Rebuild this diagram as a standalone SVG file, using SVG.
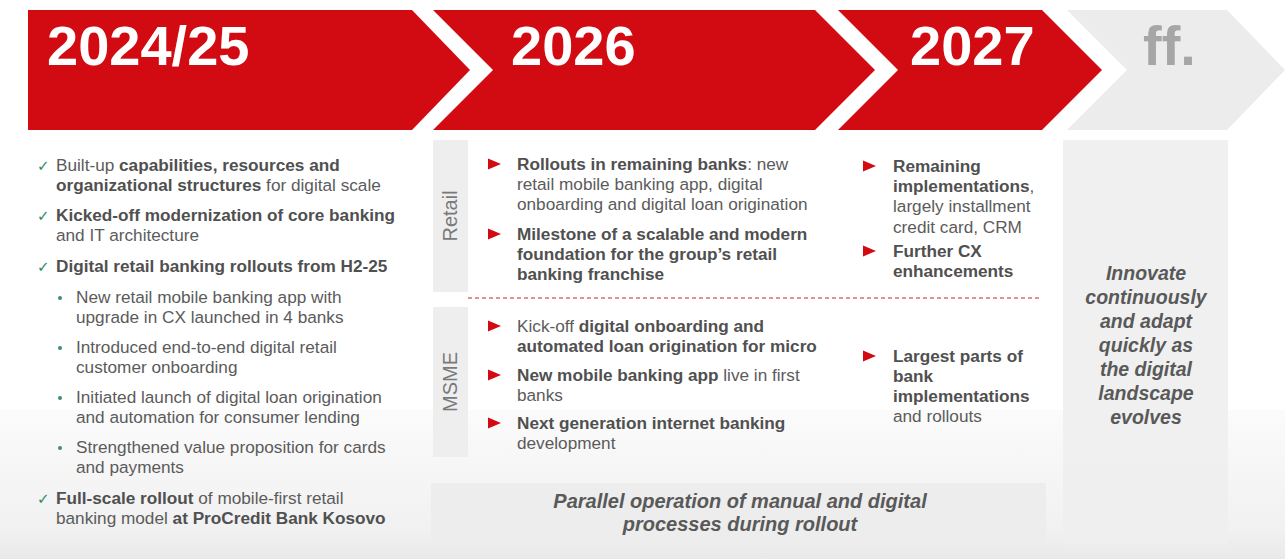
<svg xmlns="http://www.w3.org/2000/svg" width="1285" height="559" viewBox="0 0 1285 559">
<defs>
<linearGradient id="floor" x1="0" y1="0" x2="0" y2="1">
<stop offset="0" stop-color="#fbfbfb"/>
<stop offset="0.8" stop-color="#f1f1f1"/>
<stop offset="1" stop-color="#e9e9e9"/>
</linearGradient>
<style>
.t{font-family:"Liberation Sans",Arial,sans-serif;font-size:17.2px;fill:#5b5b5b}
.b{font-weight:bold;fill:#505050}
.yr{font-family:"Liberation Sans",Arial,sans-serif;font-size:56px;font-weight:bold;fill:#ffffff}
.red{fill:#d20a11}
.chk{font-family:"DejaVu Sans",sans-serif;font-size:15px;fill:#2f8a62}
.dot{fill:#3b9070}
.lbl{font-family:"Liberation Sans",Arial,sans-serif;font-size:20px;fill:#7a7a7a}
.bi{font-family:"Liberation Sans",Arial,sans-serif;font-weight:bold;font-style:italic;fill:#595959;text-anchor:middle}
.box{fill:#eeeeee}
</style>
</defs>
<rect width="1285" height="559" fill="#ffffff"/>
<rect x="0" y="410" width="1285" height="149" fill="url(#floor)"/>

<g id="chevron-2024">
<polygon class="red" points="28,10 412,10 470,70 412,130 28,130"/>
<text class="yr" x="47" y="65">2024/25</text>
</g>
<g id="chevron-2026">
<polygon class="red" points="433,10 815,10 875,70 815,130 433,130 493,70"/>
<text class="yr" x="511" y="65">2026</text>
</g>
<g id="chevron-2027">
<polygon class="red" points="838,10 1042,10 1102,70 1042,130 838,130 898,70"/>
<text class="yr" x="910" y="65">2027</text>
</g>
<g id="chevron-ff">
<polygon fill="#ececec" points="1067,10 1227,10 1285,70 1227,130 1067,130 1127,70"/>
<text class="yr" x="1143" y="65" style="fill:#a6a6a6">ff.</text>
</g>

<g id="col-2024">
<text class="chk" x="37" y="171">✓</text>
<text class="t" x="56" y="171">Built-up <tspan class="b">capabilities, resources and</tspan></text>
<text class="t" x="56" y="191"><tspan class="b">organizational structures</tspan> for digital scale</text>
<text class="chk" x="37" y="221">✓</text>
<text class="t b" x="56" y="221">Kicked-off modernization of core banking</text>
<text class="t" x="56" y="241">and IT architecture</text>
<text class="chk" x="37" y="272">✓</text>
<text class="t b" x="56" y="272">Digital retail banking rollouts from H2-25</text>
<circle class="dot" cx="60" cy="298" r="2"/>
<text class="t" x="76" y="303">New retail mobile banking app with</text>
<text class="t" x="76" y="323">upgrade in CX launched in 4 banks</text>
<circle class="dot" cx="60" cy="348" r="2"/>
<text class="t" x="76" y="353">Introduced end-to-end digital retail</text>
<text class="t" x="76" y="373">customer onboarding</text>
<circle class="dot" cx="60" cy="398" r="2"/>
<text class="t" x="76" y="403">Initiated launch of digital loan origination</text>
<text class="t" x="76" y="423">and automation for consumer lending</text>
<circle class="dot" cx="60" cy="448" r="2"/>
<text class="t" x="76" y="453">Strengthened value proposition for cards</text>
<text class="t" x="76" y="473">and payments</text>
<text class="chk" x="37" y="504">✓</text>
<text class="t" x="56" y="504"><tspan class="b">Full-scale rollout</tspan> of mobile-first retail</text>
<text class="t" x="56" y="524">banking model <tspan class="b">at ProCredit Bank Kosovo</tspan></text>
</g>

<g id="retail-label">
<rect class="box" x="433" y="140" width="35" height="152"/>
<text class="lbl" transform="translate(457,216) rotate(-90)" text-anchor="middle">Retail</text>
</g>
<g id="msme-label">
<rect class="box" x="433" y="307" width="35" height="150"/>
<text class="lbl" transform="translate(457,382) rotate(-90)" text-anchor="middle">MSME</text>
</g>

<g id="col-2026-retail">
<polygon class="red" points="488,158.5 501,164 488,169.5"/>
<text class="t" x="517" y="170"><tspan class="b">Rollouts in remaining banks</tspan>: new</text>
<text class="t" x="517" y="190">retail mobile banking app, digital</text>
<text class="t" x="517" y="210">onboarding and digital loan origination</text>
<polygon class="red" points="488,228.5 501,234 488,239.5"/>
<text class="t b" x="517" y="240">Milestone of a scalable and modern</text>
<text class="t b" x="517" y="260">foundation for the group’s retail</text>
<text class="t b" x="517" y="280">banking franchise</text>
</g>
<g id="col-2026-msme">
<polygon class="red" points="488,320.5 501,326 488,331.5"/>
<text class="t" x="517" y="332">Kick-off <tspan class="b">digital onboarding and</tspan></text>
<text class="t b" x="517" y="352">automated loan origination for micro</text>
<polygon class="red" points="488,369.5 501,375 488,380.5"/>
<text class="t" x="517" y="381"><tspan class="b">New mobile banking app</tspan> live in first</text>
<text class="t" x="517" y="401">banks</text>
<polygon class="red" points="488,417.5 501,423 488,428.5"/>
<text class="t b" x="517" y="429">Next generation internet banking</text>
<text class="t" x="517" y="449">development</text>
</g>

<g id="col-2027-retail">
<polygon class="red" points="863,160.5 876,166 863,171.5"/>
<text class="t b" x="893" y="172">Remaining</text>
<text class="t" x="893" y="192"><tspan class="b">implementations</tspan>,</text>
<text class="t" x="893" y="212">largely installment</text>
<text class="t" x="893" y="233">credit card, CRM</text>
<polygon class="red" points="863,245.5 876,251 863,256.5"/>
<text class="t b" x="893" y="257">Further CX</text>
<text class="t b" x="893" y="277">enhancements</text>
</g>
<g id="col-2027-msme">
<polygon class="red" points="863,350.5 876,356 863,361.5"/>
<text class="t b" x="893" y="362">Largest parts of</text>
<text class="t b" x="893" y="382">bank</text>
<text class="t b" x="893" y="402">implementations</text>
<text class="t" x="893" y="422">and rollouts</text>
</g>

<g id="col-ff">
<rect x="1063" y="140" width="165" height="405" fill="#eeeeee" opacity="0.9"/>
<text class="bi" x="1146" y="280" font-size="19.5">Innovate</text>
<text class="bi" x="1146" y="304" font-size="19.5">continuously</text>
<text class="bi" x="1146" y="328" font-size="19.5">and adapt</text>
<text class="bi" x="1146" y="352" font-size="19.5">quickly as</text>
<text class="bi" x="1146" y="376" font-size="19.5">the digital</text>
<text class="bi" x="1146" y="400" font-size="19.5">landscape</text>
<text class="bi" x="1146" y="424" font-size="19.5">evolves</text>
</g>

<g id="parallel-bar">
<rect x="431" y="483" width="615" height="61" fill="#ededed"/>
<text class="bi" x="740" y="508" font-size="20">Parallel operation of manual and digital</text>
<text class="bi" x="740" y="531" font-size="20">processes during rollout</text>
</g>

<g id="connectors">
<line x1="468" y1="298" x2="1042" y2="298" stroke="#e06a6a" stroke-width="1.5" stroke-dasharray="4 3"/>
</g>
</svg>
